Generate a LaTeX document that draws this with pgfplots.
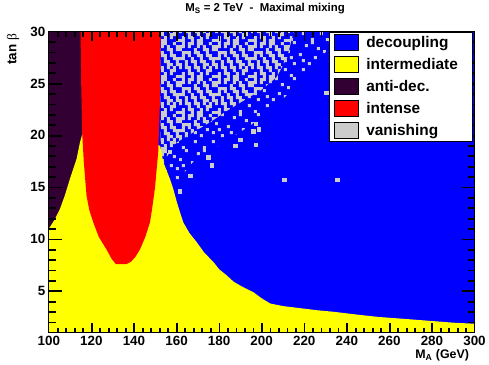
\documentclass[border=0pt]{standalone}
\usepackage{fontspec}
\setmainfont{Liberation Sans}
\newfontfamily\seriffont{Liberation Serif}
\usepackage{pgfplots}
\pgfplotsset{compat=1.18}
\usetikzlibrary{patterns}
\definecolor{vblue}{RGB}{0,0,255}
\definecolor{vyellow}{RGB}{255,255,0}
\definecolor{vpurple}{RGB}{51,0,51}
\definecolor{vred}{RGB}{255,0,0}
\definecolor{vgray}{RGB}{204,204,204}
\newcommand\sq[2]{\pgfpathrectangle{\pgfpoint{#1bp}{#2bp}}{\pgfpoint{3bp}{3bp}}}
\pgfdeclarepatternformonly{densesq}{\pgfpointorigin}{\pgfpoint{36bp}{36bp}}{\pgfpoint{36bp}{36bp}}{%
\sq{0}{0}\sq{3}{0}\sq{12}{0}\sq{18}{0}\sq{21}{0}\sq{33}{0}%
\sq{3}{3}\sq{9}{3}\sq{12}{3}\sq{21}{3}\sq{27}{3}%
\sq{9}{6}\sq{18}{6}\sq{27}{6}\sq{30}{6}%
\sq{0}{9}\sq{6}{9}\sq{9}{9}\sq{15}{9}\sq{18}{9}\sq{24}{9}\sq{30}{9}%
\sq{0}{12}\sq{6}{12}\sq{15}{12}\sq{24}{12}\sq{27}{12}\sq{33}{12}%
\sq{6}{15}\sq{12}{15}\sq{15}{15}\sq{21}{15}\sq{24}{15}\sq{33}{15}%
\sq{0}{18}\sq{3}{18}\sq{12}{18}\sq{21}{18}\sq{30}{18}\sq{33}{18}%
\sq{3}{21}\sq{9}{21}\sq{18}{21}\sq{21}{21}\sq{27}{21}\sq{30}{21}%
\sq{3}{24}\sq{6}{24}\sq{9}{24}\sq{15}{24}\sq{18}{24}\sq{27}{24}%
\sq{0}{27}\sq{15}{27}\sq{24}{27}\sq{27}{27}\sq{33}{27}%
\sq{0}{30}\sq{3}{30}\sq{9}{30}\sq{18}{30}\sq{24}{30}\sq{33}{30}%
\sq{3}{33}\sq{9}{33}\sq{12}{33}\sq{18}{33}\sq{21}{33}\sq{30}{33}%
\pgfusepath{fill}}
\pgfdeclarepatternformonly{sparsesq}{\pgfpointorigin}{\pgfpoint{36bp}{36bp}}{\pgfpoint{36bp}{36bp}}{%
\sq{3}{0}\sq{24}{0}\sq{15}{6}\sq{33}{6}\sq{6}{12}\sq{21}{12}\sq{27}{18}\sq{12}{21}%
\sq{0}{24}\sq{30}{27}\sq{18}{30}\sq{6}{33}\sq{24}{33}\sq{33}{15}\sq{3}{18}\sq{15}{15}%
\pgfusepath{fill}}
\begin{document}
\begin{tikzpicture}
\begin{axis}[
  scale only axis, width=427bp, height=302bp,
  xmin=100, xmax=300, ymin=1, ymax=30,
  clip=false,
  axis line style={draw=black, line width=0.8bp},
  xtick={100,120,...,300}, ytick={5,10,...,30},
  major tick length=0bp,
  /pgf/number format/assume math mode=true,
  ticklabel style={font=\bfseries\fontsize{13.5}{13.5}\selectfont},
  title={M\textsubscript{S} = 2 TeV\ \ -\ \ Maximal mixing},
  title style={font=\bfseries\fontsize{11.5}{11.5}\selectfont, at={(0.508,1)}, anchor=base, yshift=14bp},
  xlabel={M\textsubscript{A} (GeV)},
  xlabel style={font=\bfseries\fontsize{12.5}{12.5}\selectfont, at={(1,0)}, anchor=base east, yshift=-26bp, xshift=-2bp},
  ylabel={tan {\seriffont\mdseries β}},
  ylabel style={font=\bfseries\fontsize{13.5}{13.5}\selectfont, at={(-0.0843,1.003)}, anchor=east},
  legend image code/.code={\draw[#1] (0bp,-8bp) rectangle (24bp,8bp);},
  legend cell align=left,
  legend style={at={(0.9953,1.0)}, anchor=north east, draw=black, line width=1bp, fill=white,
    font=\bfseries\fontsize{15.5}{15.5}\selectfont, inner xsep=5bp, inner ysep=2.5bp,
    row sep=5bp, column sep=7bp,
    nodes={inner sep=0pt, text width=101bp, align=left}},
]
% decoupling background
\addplot[fill=vblue, draw=none, forget plot] coordinates {(100,1) (300,1) (300,30) (100,30)};
% vanishing: dense core
\addplot[pattern=densesq, pattern color=vgray, draw=none, forget plot] coordinates {
(152.5,30) (152.5,16.5) (155,17.8) (160,19.3) (168,20.3) (176,21.3) (184,22.4) (192,23.4) (200,24.4) (207,25.6) (212,27.5) (215,30)};
% vanishing: sparse fringe
\addplot[pattern=sparsesq, pattern color=vgray, draw=none, forget plot] coordinates {
(152.5,16.5) (152.5,12.5) (158,15) (168,17.5) (180,19) (195,21) (210,23.5) (222,26) (230,28) (233,30)
(215,30) (212,27.5) (207,25.6) (200,24.4) (192,23.4) (184,22.4) (176,21.3) (168,20.3) (160,19.3) (155,17.8)};
% vanishing: isolated points
\addplot[only marks, mark=square*, mark size=1.75bp, color=vgray, forget plot] coordinates {
(235.5,15.7) (210.5,15.7) (230.4,24.1) (197.3,19.1) (187.5,19.0) (189.9,19.6) (176.6,17.1) (174.8,17.9)
(166.4,16.1) (161.6,14.6) (197.3,21.1) (198.5,20.6) (196.1,20.4) (156.9,18.4)};
% anti-decoupling
\addplot[fill=vpurple, draw=none, forget plot] coordinates {(100,1) (116,1) (116,30) (100,30)};
% intermediate
\addplot[fill=vyellow, draw=none, forget plot] coordinates {
(100,1) (100,11) (102.5,11.8) (105.2,12.9) (107.5,14.2) (109.9,15.8) (113,17.7) (114.6,19.3) (115.7,20.1)
(130,20) (152.3,19.0) (153.8,17.4) (156.9,15.8) (158.5,14.8) (160.1,13.6) (161.6,12.6) (163.2,11.6)
(166,10.6) (169.5,9.7) (173,8.7) (177.3,7.8) (180,7.1) (183.6,6.5) (186.8,5.9) (191,5.4) (196,4.9)
(200,4.3) (204,3.8) (210,3.55) (218,3.35) (226,3.15) (233.8,3.0) (246,2.7) (255,2.5) (265,2.35)
(280.7,2.1) (290,1.95) (300,1.85) (300,1)};
% intense
\addplot[fill=vred, draw=none, forget plot] coordinates {
(114.9,30) (115.2,25) (115.7,20.1) (116.4,17.5) (117.7,14.2) (119,12.8) (120.9,11.6) (123.5,10.2)
(127.1,9.0) (129.5,8.1) (131.5,7.6) (136.5,7.6) (138.5,7.8) (140.7,8.3) (142.8,9.0) (145.3,10.2)
(147.5,11.6) (148.5,12.9) (149.9,15.0) (151.4,18.4) (152.2,23.2) (152.5,30)};
% frame, as thin filled bands
\addplot[fill=black, draw=none, forget plot] coordinates {(99.81,0.9615) (300.19,0.9615) (300.19,1.0385) (99.81,1.0385)};
\addplot[fill=black, draw=none, forget plot] coordinates {(99.81,29.9615) (300.19,29.9615) (300.19,30.0385) (99.81,30.0385)};
\addplot[fill=black, draw=none, forget plot] coordinates {(99.81,1) (100.19,1) (100.19,30) (99.81,30)};
\addplot[fill=black, draw=none, forget plot] coordinates {(299.81,1) (300.19,1) (300.19,30) (299.81,30)};
% x major ticks (9bp long), bottom and top
\addplot[only marks, mark=square*, mark size=1bp, mark options={fill=black, draw=none, xscale=0.4, yscale=4.5}, forget plot] coordinates {
(120,1.432) (140,1.432) (160,1.432) (180,1.432) (200,1.432) (220,1.432) (240,1.432) (260,1.432) (280,1.432)
(120,29.568) (140,29.568) (160,29.568) (180,29.568) (200,29.568) (220,29.568) (240,29.568) (260,29.568) (280,29.568)};
% x minor ticks (4.5bp long), bottom and top
\addplot[only marks, mark=square*, mark size=1bp, mark options={fill=black, draw=none, xscale=0.4, yscale=2.25}, forget plot] coordinates {
(104,1.216) (108,1.216) (112,1.216) (116,1.216) (124,1.216) (128,1.216) (132,1.216) (136,1.216)
(144,1.216) (148,1.216) (152,1.216) (156,1.216) (164,1.216) (168,1.216) (172,1.216) (176,1.216)
(184,1.216) (188,1.216) (192,1.216) (196,1.216) (204,1.216) (208,1.216) (212,1.216) (216,1.216)
(224,1.216) (228,1.216) (232,1.216) (236,1.216) (244,1.216) (248,1.216) (252,1.216) (256,1.216)
(264,1.216) (268,1.216) (272,1.216) (276,1.216) (284,1.216) (288,1.216) (292,1.216) (296,1.216)
(104,29.784) (108,29.784) (112,29.784) (116,29.784) (124,29.784) (128,29.784) (132,29.784) (136,29.784)
(144,29.784) (148,29.784) (152,29.784) (156,29.784) (164,29.784) (168,29.784) (172,29.784) (176,29.784)
(184,29.784) (188,29.784) (192,29.784) (196,29.784) (204,29.784) (208,29.784) (212,29.784) (216,29.784)
(224,29.784) (228,29.784) (232,29.784) (236,29.784) (244,29.784) (248,29.784) (252,29.784) (256,29.784)
(264,29.784) (268,29.784) (272,29.784) (276,29.784) (284,29.784) (288,29.784) (292,29.784) (296,29.784)};
% y major ticks (12.8bp long), left and right
\addplot[only marks, mark=square*, mark size=1bp, mark options={fill=black, draw=none, xscale=6.4, yscale=0.4}, forget plot] coordinates {
(103,5) (103,10) (103,15) (103,20) (103,25) (297,5) (297,10) (297,15) (297,20) (297,25)};
% y minor ticks (6.4bp long), left and right
\addplot[only marks, mark=square*, mark size=1bp, mark options={fill=black, draw=none, xscale=3.2, yscale=0.4}, forget plot] coordinates {
(101.5,2) (101.5,3) (101.5,4) (101.5,6) (101.5,7) (101.5,8) (101.5,9) (101.5,11) (101.5,12) (101.5,13) (101.5,14)
(101.5,16) (101.5,17) (101.5,18) (101.5,19) (101.5,21) (101.5,22) (101.5,23) (101.5,24) (101.5,26) (101.5,27) (101.5,28) (101.5,29)
(298.5,2) (298.5,3) (298.5,4) (298.5,6) (298.5,7) (298.5,8) (298.5,9) (298.5,11) (298.5,12) (298.5,13) (298.5,14)
(298.5,16) (298.5,17) (298.5,18) (298.5,19) (298.5,21) (298.5,22) (298.5,23) (298.5,24) (298.5,26) (298.5,27) (298.5,28) (298.5,29)};
\addlegendimage{fill=vblue, draw=black}
\addlegendentry{decoupling}
\addlegendimage{fill=vyellow, draw=black}
\addlegendentry{intermediate}
\addlegendimage{fill=vpurple, draw=black}
\addlegendentry{anti-dec.}
\addlegendimage{fill=vred, draw=black}
\addlegendentry{intense}
\addlegendimage{fill=vgray, draw=black}
\addlegendentry{vanishing}
\end{axis}
\path ([xshift=-49bp,yshift=-32bp]current axis.south west) rectangle ([xshift=13bp,yshift=29bp]current axis.north east);
\end{tikzpicture}
\end{document}
